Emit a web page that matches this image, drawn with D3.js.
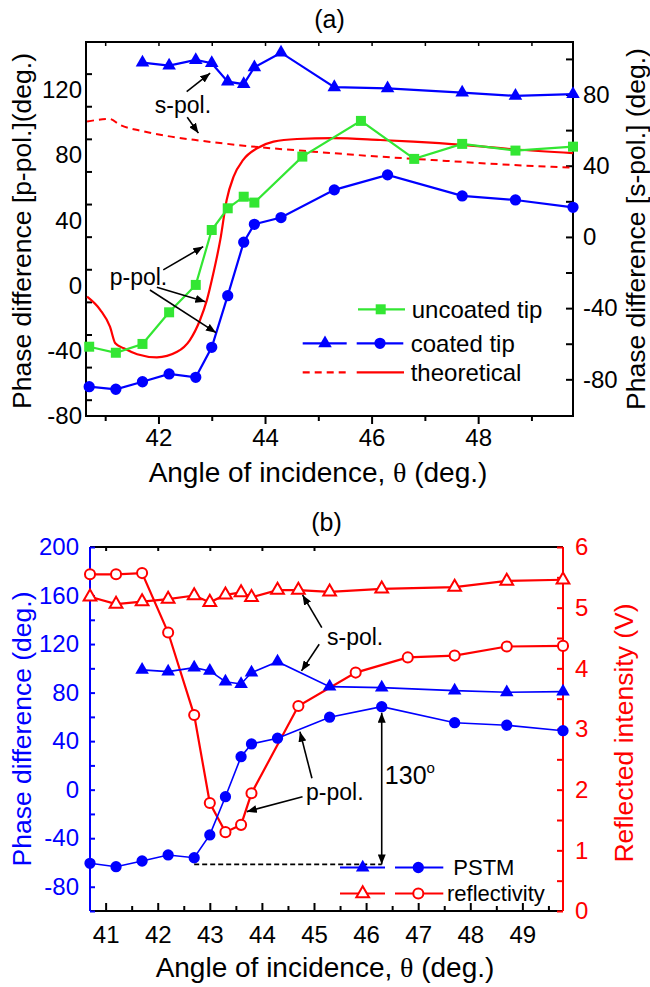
<!DOCTYPE html>
<html>
<head>
<meta charset="utf-8">
<script src="https://cdn.jsdelivr.net/npm/d3@7"></script>
<style>
  body { margin: 0; background: #fff; }
  svg text { font-family: "Liberation Sans", Arial, Helvetica, sans-serif; }
</style>
</head>
<body>
<svg id="chart" width="650" height="987"></svg>
<script>
// ---------------- Panel (a): phase difference vs. angle of incidence ----------------
// coated tip, p-polarisation (left axis)
const angleCoatedP = [40.7, 41.2, 41.7, 42.2, 42.7, 43.0, 43.3, 43.6, 43.8, 44.3, 45.3, 46.3, 47.7, 48.7, 49.78];
const coatedP      = [-62, -63.6, -59, -54.2, -56.3, -37.9, -6.2, 26.6, 37.6, 41.7, 58.7, 67.9, 55, 52.5, 48];
// coated tip, s-polarisation (right axis)
const angleCoatedS = [41.7, 42.2, 42.7, 43.0, 43.3, 43.6, 43.8, 44.3, 45.3, 46.3, 47.7, 48.7, 49.78];
const coatedS      = [97.9, 96.2, 99.4, 97.6, 87.2, 85.8, 95.3, 103.5, 84.1, 83.5, 81.1, 79.2, 80.2];
// uncoated tip, p-polarisation (left axis)
const angleUncoated = [40.7, 41.2, 41.7, 42.2, 42.7, 43.0, 43.3, 43.6, 43.8, 44.7, 45.8, 46.8, 47.7, 48.7, 49.78];
const uncoatedP     = [-37.5, -41.2, -35.8, -16.4, 0.4, 34.1, 47.4, 54.5, 50.9, 79.1, 101, 77.7, 86.9, 82.8, 85.2];
// theoretical curves
const angleTheoryP = [40.66, 40.91, 41.09, 41.19, 41.35, 41.6, 41.97, 42.35, 42.59, 42.78, 42.91, 43.03, 43.16,
                      43.28, 43.41, 43.59, 43.85, 44.16, 44.6, 45.28, 46.16, 46.78, 47.72, 48.66, 49.78];
const theoryP      = [-6.8, -15, -25.2, -35.4, -38.5, -42.1, -44, -40.6, -33.4, -21.1, -8.8, 7.5, 28,
                      52.5, 66.8, 77.1, 84.2, 88.3, 89.9, 90.4, 89.3, 88.3, 86.3, 83.6, 81.2];
const angleTheoryS = [40.66, 41.08, 41.28, 41.66, 42.16, 42.78, 43.66, 44.91, 46.16, 47.41, 48.66, 49.78];
const theoryS      = [64.8, 66.3, 62.9, 59.7, 56.7, 54.1, 51.1, 47.9, 45.1, 42.7, 40.4, 38.9];

const ticksAX      = [42, 44, 46, 48];
const minorAX      = [41, 43, 45, 47, 49];
const labelsALeft  = [-80, -40, 0, 40, 80, 120];
const ticksALeft   = [-70, -50, -30, -10, 10, 30, 50, 70, 90, 110, 130];
const labelsARight = [-80, -40, 0, 40, 80];
const ticksARight  = [-80, -60, -40, -20, 0, 20, 40, 60, 80, 100];

// ---------------- Panel (b): PSTM phase and reflectivity ----------------
const anglePstmP = [40.7, 41.2, 41.7, 42.2, 42.7, 43.0, 43.3, 43.6, 43.8, 44.3, 45.3, 46.3, 47.7, 48.7, 49.78];
const pstmP      = [-60.7, -63.5, -58.8, -53.8, -56.1, -37.3, -5.8, 27.2, 37.7, 42.4, 59.7, 68.4, 55.2, 53.1, 48.6];
const anglePstmS = [41.7, 42.2, 42.7, 43.0, 43.3, 43.6, 43.8, 44.3, 45.3, 46.3, 47.7, 48.7, 49.78];
const pstmS      = [98.7, 97.3, 100.6, 97.9, 89, 87.1, 96.5, 105.5, 84.9, 84.1, 81.6, 80.3, 80.8];
const angleReflP = [40.7, 41.2, 41.7, 42.2, 42.7, 43.0, 43.3, 43.6, 43.8, 44.7, 45.8, 46.8, 47.7, 48.7, 49.78];
const reflP      = [5.55, 5.55, 5.57, 4.59, 3.23, 1.78, 1.30, 1.42, 1.94, 3.38, 3.93, 4.18, 4.21, 4.36, 4.37];
const angleReflS = [40.7, 41.2, 41.7, 42.2, 42.7, 43.0, 43.3, 43.6, 43.8, 44.3, 44.7, 45.3, 46.3, 47.7, 48.7, 49.78];
const reflS      = [5.18, 5.06, 5.10, 5.14, 5.20, 5.09, 5.21, 5.25, 5.17, 5.29, 5.29, 5.26, 5.31, 5.34, 5.44, 5.46];
const phaseSwing = 130;   // p-pol phase change marked on the plot

const ticksBX      = [41, 42, 43, 44, 45, 46, 47, 48, 49];
const minorBX      = [41.5, 42.5, 43.5, 44.5, 45.5, 46.5, 47.5, 48.5, 49.5];
const topBX        = [41, 42, 43, 44, 45];
const labelsBLeft  = [-80, -40, 0, 40, 80, 120, 160, 200];
const ticksBLeft   = [-100, -80, -60, -40, -20, 0, 20, 40, 60, 80, 100, 120, 140, 160, 180, 200];
const labelsBRight = [0, 1, 2, 3, 4, 5, 6];
const ticksBRight  = [0, 0.5, 1, 1.5, 2, 2.5, 3, 3.5, 4, 4.5, 5, 5.5, 6];

// ---------------- drawing ----------------
const BLUE = "#0000ff", RED = "#ff0000", GREEN = "#33e633", BLACK = "#000";
const TICK_FONT = 24, XTITLE_FONT = 28, YTITLE_FONT = 26.5, LEGEND_FONT = 24, NOTE_FONT = 23;
const svg = d3.select("#chart");
const fmt = d => String(d);
const zip = (a, b) => a.map((v, i) => [v, b[i]]);

const defs = svg.append("defs");
defs.append("marker").attr("id", "arrow")
  .attr("viewBox", "0 0 10 8").attr("refX", 10).attr("refY", 4)
  .attr("markerWidth", 10).attr("markerHeight", 8)
  .attr("markerUnits", "userSpaceOnUse").attr("orient", "auto-start-reverse")
  .append("path").attr("d", "M0,0 L10,4 L0,8 Z").attr("fill", BLACK);

function styleAxis(g, color, width) {
  g.selectAll(".domain").remove();
  g.selectAll(".tick line").attr("stroke", color).attr("stroke-width", width);
  g.selectAll(".tick text").attr("fill", color).attr("font-size", TICK_FONT)
    .style("font-family", '"Liberation Sans", Arial, sans-serif');
}

function drawLine(g, xs, ys, x, y, color, width, dash, curve) {
  const line = d3.line().x(d => x(d[0])).y(d => y(d[1])).curve(curve || d3.curveLinear);
  g.append("path").datum(zip(xs, ys)).attr("d", line)
    .attr("fill", "none").attr("stroke", color).attr("stroke-width", width)
    .attr("stroke-dasharray", dash || null);
}

function drawMarkers(g, xs, ys, x, y, type, size, fill, stroke, sw) {
  const sym = d3.symbol().type(type).size(size);
  g.selectAll(null).data(zip(xs, ys)).enter().append("path")
    .attr("d", sym)
    .attr("transform", d => `translate(${x(d[0])},${y(d[1])})`)
    .attr("fill", fill).attr("stroke", stroke || "none").attr("stroke-width", sw || 0);
}

function arrow(g, x1, y1, x2, y2, both) {
  g.append("line").attr("x1", x1).attr("y1", y1).attr("x2", x2).attr("y2", y2)
    .attr("stroke", BLACK).attr("stroke-width", 1.6)
    .attr("marker-end", "url(#arrow)")
    .attr("marker-start", both ? "url(#arrow)" : null);
}

function legendRow(g, y, segs, label, tx, size) {
  segs.forEach(s => {
    g.append("line").attr("x1", s.x1).attr("x2", s.x2).attr("y1", y).attr("y2", y)
      .attr("stroke", s.color).attr("stroke-width", 2.2).attr("stroke-dasharray", s.dash || null);
    if (s.type) {
      g.append("path").attr("d", d3.symbol().type(s.type).size(s.size)())
        .attr("transform", `translate(${s.mx},${y})`)
        .attr("fill", s.fill).attr("stroke", s.stroke || "none").attr("stroke-width", s.sw || 0);
    }
  });
  g.append("text").attr("x", tx).attr("y", y).attr("dy", "0.36em")
    .attr("font-size", size || LEGEND_FONT).attr("fill", BLACK).text(label);
}

function xTitle(g, cx, y) {
  const t = g.append("text").attr("x", cx).attr("y", y).attr("text-anchor", "middle")
    .attr("font-size", XTITLE_FONT).attr("fill", BLACK);
  t.append("tspan").text("Angle of incidence, ");
  t.append("tspan").style("font-family", '"Liberation Serif", "DejaVu Serif", serif').text("θ");
  t.append("tspan").text(" (deg.)");
}

function yTitle(g, x, cy, label, color) {
  g.append("text").attr("transform", `translate(${x},${cy}) rotate(-90)`)
    .attr("text-anchor", "middle").attr("font-size", YTITLE_FONT).attr("fill", color).text(label);
}

// ======== Panel (a) ========
{
  const L = 86, R = 573, T = 42, B = 416;
  const x = d3.scaleLinear().domain([40.64, 49.78]).range([L, R]);
  const yL = d3.scaleLinear().domain([-80, 149.4]).range([B, T]);
  const yR = d3.scaleLinear().domain([-100.6, 109.5]).range([B, T]);
  const g = svg.append("g");

  g.append("text").attr("x", (L + R) / 2).attr("y", 28).attr("text-anchor", "middle")
    .attr("font-size", 25).text("(a)");

  // axes
  const bx = g.append("g").attr("transform", `translate(0,${B})`)
    .call(d3.axisBottom(x).tickValues(ticksAX).tickFormat(fmt).tickSizeInner(8).tickSizeOuter(0).tickPadding(5));
  styleAxis(bx, BLACK, 2);
  const bxm = g.append("g").attr("transform", `translate(0,${B})`)
    .call(d3.axisBottom(x).tickValues(minorAX).tickFormat("").tickSizeInner(5).tickSizeOuter(0));
  styleAxis(bxm, BLACK, 2);
  const tx = g.append("g").attr("transform", `translate(0,${T})`)
    .call(d3.axisBottom(x).tickValues(ticksAX.concat(minorAX)).tickFormat("").tickSizeInner(4).tickSizeOuter(0));
  styleAxis(tx, BLACK, 1.5);

  const lt = g.append("g").attr("transform", `translate(${L},0)`)
    .call(d3.axisRight(yL).tickValues(ticksALeft).tickFormat("").tickSizeInner(6).tickSizeOuter(0));
  styleAxis(lt, BLACK, 2);
  const ll = g.append("g").attr("transform", `translate(${L},0)`)
    .call(d3.axisLeft(yL).tickValues(labelsALeft).tickFormat(fmt).tickSizeInner(0).tickSizeOuter(0).tickPadding(4));
  styleAxis(ll, BLACK, 0);

  const rt = g.append("g").attr("transform", `translate(${R},0)`)
    .call(d3.axisLeft(yR).tickValues(ticksARight).tickFormat("").tickSizeInner(7).tickSizeOuter(0));
  styleAxis(rt, BLACK, 2);
  const rl = g.append("g").attr("transform", `translate(${R},0)`)
    .call(d3.axisRight(yR).tickValues(labelsARight).tickFormat(fmt).tickSizeInner(0).tickSizeOuter(0).tickPadding(10));
  styleAxis(rl, BLACK, 0);

  g.append("rect").attr("x", L).attr("y", T).attr("width", R - L).attr("height", B - T)
    .attr("fill", "none").attr("stroke", BLACK).attr("stroke-width", 2);

  xTitle(g, 318, 482);
  yTitle(g, 31, 231, "Phase difference [p-pol.](deg.)", BLACK);
  yTitle(g, 645, 229, "Phase difference [s-pol.] (deg.)", BLACK);

  // theoretical curves
  drawLine(g, angleTheoryS, theoryS, x, yR, RED, 2, "7,5", d3.curveMonotoneX);
  drawLine(g, angleTheoryP, theoryP, x, yL, RED, 2.2, null, d3.curveMonotoneX);
  // measured data
  drawLine(g, angleUncoated, uncoatedP, x, yL, GREEN, 2.2);
  drawLine(g, angleCoatedS, coatedS, x, yR, BLUE, 2.2);
  drawLine(g, angleCoatedP, coatedP, x, yL, BLUE, 2.2);
  drawMarkers(g, angleUncoated, uncoatedP, x, yL, d3.symbolSquare, 100, GREEN);
  drawMarkers(g, angleCoatedS, coatedS, x, yR, d3.symbolTriangle, 80, BLUE);
  drawMarkers(g, angleCoatedP, coatedP, x, yL, d3.symbolCircle, 100, BLUE);

  // annotations
  g.append("text").attr("x", x(42.46)).attr("y", yR(74.2)).attr("dy", "0.36em")
    .attr("text-anchor", "middle").attr("font-size", NOTE_FONT).text("s-pol.");
  arrow(g, x(42.53), yR(81.6), x(42.97), yR(92.0));
  arrow(g, x(42.54), yR(67.2), x(42.75), yR(58.3));
  g.append("text").attr("x", x(41.625)).attr("y", yL(5.5)).attr("dy", "0.36em")
    .attr("text-anchor", "middle").attr("font-size", NOTE_FONT).text("p-pol.");
  arrow(g, x(42.09), yL(9.6), x(42.84), yL(23.9));
  arrow(g, x(41.97), yL(-1.0), x(42.88), yL(-9.9));
  arrow(g, x(41.84), yL(-2.7), x(43.08), yL(-28.9));

  // legend
  const lg = g.append("g");
  legendRow(lg, 309.3, [{x1: 358, x2: 405, color: GREEN, type: d3.symbolSquare, size: 100, mx: 380.7, fill: GREEN}],
    "uncoated tip", 411.7);
  legendRow(lg, 343.3, [
    {x1: 302.7, x2: 346.7, color: BLUE, type: d3.symbolTriangle, size: 80, mx: 325, fill: BLUE},
    {x1: 356.7, x2: 403.3, color: BLUE, type: d3.symbolCircle, size: 100, mx: 380, fill: BLUE}],
    "coated tip", 410.7);
  legendRow(lg, 372.3, [
    {x1: 302.7, x2: 346.7, color: RED, dash: "7,5"},
    {x1: 356.7, x2: 404, color: RED}],
    "theoretical", 410.7);
}

// ======== Panel (b) ========
{
  const L = 90, R = 563, T = 547, B = 911;
  const x = d3.scaleLinear().domain([40.7, 49.78]).range([L, R]);
  const yL = d3.scaleLinear().domain([-100, 200]).range([B, T]);
  const yR = d3.scaleLinear().domain([0, 6]).range([B, T]);
  const g = svg.append("g");

  g.append("text").attr("x", (L + R) / 2).attr("y", 531).attr("text-anchor", "middle")
    .attr("font-size", 25).text("(b)");

  // frame: black top/bottom, blue left, red right
  g.append("line").attr("x1", L).attr("x2", R).attr("y1", T).attr("y2", T).attr("stroke", BLACK).attr("stroke-width", 2);
  g.append("line").attr("x1", L).attr("x2", R).attr("y1", B).attr("y2", B).attr("stroke", BLACK).attr("stroke-width", 2);
  g.append("line").attr("x1", L).attr("x2", L).attr("y1", T).attr("y2", B).attr("stroke", BLUE).attr("stroke-width", 2);
  g.append("line").attr("x1", R).attr("x2", R).attr("y1", T).attr("y2", B).attr("stroke", RED).attr("stroke-width", 2);

  const bx = g.append("g").attr("transform", `translate(0,${B})`)
    .call(d3.axisBottom(x).tickValues(ticksBX).tickFormat(fmt).tickSizeInner(-8).tickSizeOuter(0).tickPadding(15));
  styleAxis(bx, BLACK, 2);
  const bxm = g.append("g").attr("transform", `translate(0,${B})`)
    .call(d3.axisBottom(x).tickValues(minorBX).tickFormat("").tickSizeInner(-5).tickSizeOuter(0));
  styleAxis(bxm, BLACK, 2);
  const tx = g.append("g").attr("transform", `translate(0,${T})`)
    .call(d3.axisBottom(x).tickValues(topBX).tickFormat("").tickSizeInner(4).tickSizeOuter(0));
  styleAxis(tx, BLACK, 2);

  const lt = g.append("g").attr("transform", `translate(${L},0)`)
    .call(d3.axisRight(yL).tickValues(ticksBLeft).tickFormat("").tickSizeInner(5).tickSizeOuter(0));
  styleAxis(lt, BLUE, 2);
  const ll = g.append("g").attr("transform", `translate(${L},0)`)
    .call(d3.axisLeft(yL).tickValues(labelsBLeft).tickFormat(fmt).tickSizeInner(0).tickSizeOuter(0).tickPadding(11));
  styleAxis(ll, BLUE, 0);

  const rt = g.append("g").attr("transform", `translate(${R},0)`)
    .call(d3.axisLeft(yR).tickValues(ticksBRight).tickFormat("").tickSizeInner(6).tickSizeOuter(0));
  styleAxis(rt, RED, 2);
  const rl = g.append("g").attr("transform", `translate(${R},0)`)
    .call(d3.axisRight(yR).tickValues(labelsBRight).tickFormat(fmt).tickSizeInner(0).tickSizeOuter(0).tickPadding(12));
  styleAxis(rl, RED, 0);

  xTitle(g, 325, 977);
  yTitle(g, 31, 729, "Phase difference (deg.)", BLUE);
  yTitle(g, 633, 733, "Reflected intensity (V)", RED);

  // reflectivity (right axis)
  drawLine(g, angleReflS, reflS, x, yR, RED, 2.2);
  drawLine(g, angleReflP, reflP, x, yR, RED, 2.2);
  drawMarkers(g, angleReflS, reflS, x, yR, d3.symbolTriangle, 70, "#fff", RED, 2);
  drawMarkers(g, angleReflP, reflP, x, yR, d3.symbolCircle, 80, "#fff", RED, 2);
  // PSTM phase (left axis)
  drawLine(g, anglePstmS, pstmS, x, yL, BLUE, 1.6);
  drawLine(g, anglePstmP, pstmP, x, yL, BLUE, 1.6);
  drawMarkers(g, anglePstmS, pstmS, x, yL, d3.symbolTriangle, 80, BLUE);
  drawMarkers(g, anglePstmP, pstmP, x, yL, d3.symbolCircle, 100, BLUE);

  // phase swing marker: from the p-pol peak down by the stated swing
  const iPeak = pstmP.indexOf(d3.max(pstmP));
  const iStart = anglePstmP.indexOf(42.7);
  const base = pstmP[iPeak] - phaseSwing;
  g.append("line").attr("x1", x(anglePstmP[iStart])).attr("x2", x(anglePstmP[iPeak]))
    .attr("y1", yL(base)).attr("y2", yL(base))
    .attr("stroke", BLACK).attr("stroke-width", 1.6).attr("stroke-dasharray", "5,3");
  arrow(g, x(anglePstmP[iPeak]), yL(base), x(anglePstmP[iPeak]), yL(pstmP[iPeak]) + 6, true);
  const sw = g.append("text").attr("x", x(46.36)).attr("y", yL(12.1)).attr("dy", "0.36em")
    .attr("font-size", 25).text(String(phaseSwing));
  sw.append("tspan").attr("dy", "-0.75em").attr("font-size", 15).text("o");

  g.append("text").attr("x", x(45.79)).attr("y", yL(126.1)).attr("dy", "0.36em")
    .attr("text-anchor", "middle").attr("font-size", NOTE_FONT).text("s-pol.");
  arrow(g, x(45.15), yL(133.6), x(44.78), yL(160.5));
  arrow(g, x(45.10), yL(119.9), x(44.76), yL(97.9));
  g.append("text").attr("x", x(45.40)).attr("y", yL(-1.6)).attr("dy", "0.36em")
    .attr("text-anchor", "middle").attr("font-size", NOTE_FONT).text("p-pol.");
  arrow(g, x(44.96), yL(9.4), x(44.73), yL(47.8));
  arrow(g, x(44.78), yL(-5.8), x(43.71), yL(-18.1));

  // legend
  const lg = g.append("g");
  legendRow(lg, 867.5, [
    {x1: 340, x2: 385, color: BLUE, type: d3.symbolTriangle, size: 80, mx: 362.7, fill: BLUE},
    {x1: 395, x2: 443.3, color: BLUE, type: d3.symbolCircle, size: 100, mx: 418.3, fill: BLUE}],
    "PSTM", 453.3, 22);
  legendRow(lg, 893.5, [
    {x1: 340, x2: 385, color: RED, type: d3.symbolTriangle, size: 70, mx: 362.7, fill: "#fff", stroke: RED, sw: 2},
    {x1: 395, x2: 443.3, color: RED, type: d3.symbolCircle, size: 80, mx: 418.3, fill: "#fff", stroke: RED, sw: 2}],
    "reflectivity", 447, 22);
}
</script>
</body>
</html>
